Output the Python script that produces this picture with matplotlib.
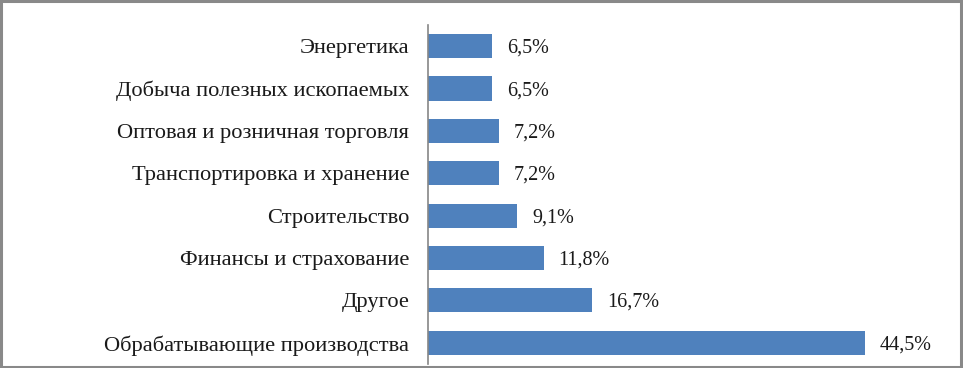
import matplotlib
matplotlib.use('Agg')
import matplotlib.pyplot as plt
from matplotlib.patches import Rectangle

categories = [
    "Обрабатывающие производства",
    "Другое",
    "Финансы и страхование",
    "Строительство",
    "Транспортировка и хранение",
    "Оптовая и розничная торговля",
    "Добыча полезных ископаемых",
    "Энергетика",
]
values = [44.5, 16.7, 11.8, 9.1, 7.2, 7.2, 6.5, 6.5]
value_labels = ["44,5%", "16,7%", "11,8%", "9,1%", "7,2%", "7,2%", "6,5%", "6,5%"]

plt.rcParams['font.family'] = ['Liberation Serif', 'DejaVu Serif']

fig = plt.figure(figsize=(9.63, 3.68), dpi=100)
ax = fig.add_axes([0.4445, 0.011, 0.51, 0.921])

pos = range(len(categories))
ax.barh(pos, values, height=0.57, color='#4F81BD')
for y, v, lab in zip(pos, values, value_labels):
    ax.text(v + 1.5, y - 0.05, lab, va='center', ha='left', fontsize=14.5, color='#1a1a1a')

ax.set_yticks(list(pos))
ax.set_yticklabels(categories, fontsize=16.2, color='#1a1a1a')
ax.set_ylim(-0.5, len(categories) - 0.5)
ax.set_xlim(0, 50)
ax.set_xticks([])
ax.tick_params(axis='y', length=0, pad=13.5)
for s in ['top', 'right', 'bottom']:
    ax.spines[s].set_visible(False)
ax.spines['left'].set_color('#868686')
ax.spines['left'].set_linewidth(1.2)

fig.patches.append(Rectangle((0.001, 0.002), 0.997, 0.995, transform=fig.transFigure,
                             fill=False, edgecolor='#898989', linewidth=2.2))

fig.savefig('out.png', dpi=100)
